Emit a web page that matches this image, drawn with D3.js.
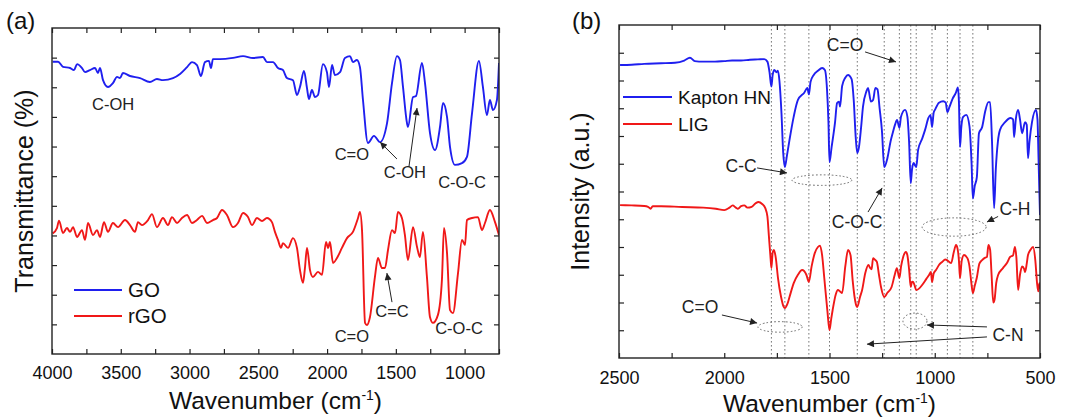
<!DOCTYPE html>
<html><head><meta charset="utf-8">
<script src="https://cdn.jsdelivr.net/npm/d3@7"></script>
<style>
body{margin:0;background:#fff;}
svg{display:block;font-family:"Liberation Sans",Arial,sans-serif;}
</style>
</head><body>
<svg id="chart" width="1070" height="419"></svg>
<script>
// ---------- Panel (a) data : FTIR of GO and rGO ----------
const goWave = [3995,3956,3920,3869,3840,3818,3782,3760,3724,3687,3666,3651,3629,3593,3557,3527,3506,3484,3433,3360,3288,3237,3193,3120,3069,3018,2982,2946,2917,2888,2859,2844,2830,2779,2684,2611,2539,2466,2437,2393,2357,2321,2292,2248,2219,2197,2168,2146,2132,2110,2088,2066,2030,2001,1986,1964,1943,1906,1870,1833,1812,1783,1761,1739,1703,1659,1615,1564,1528,1492,1470,1448,1419,1412,1375,1354,1310,1288,1252,1215,1179,1157,1128,1106,1070,1019,983,946,896,867,838,816,794,765,750];
const goVal  = [9.86,9.86,9.69,9.65,9.58,9.78,9.65,9.51,9.58,9.65,9.48,9.65,9.24,9.01,9.14,9.35,9.31,9.48,9.38,9.31,9.18,9.28,9.24,9.31,9.45,9.68,9.85,9.75,9.38,9.85,9.89,9.65,9.95,9.95,9.99,10.05,9.99,10.02,9.85,9.85,9.65,9.58,9.31,9.24,8.74,9.01,9.55,8.97,8.60,8.91,8.67,8.74,9.78,9.51,9.01,9.75,9.41,9.51,9.99,10.05,9.85,9.92,9.68,8.57,7.12,7.36,7.15,7.79,9.14,10.05,9.92,9.01,7.79,7.66,8.67,8.70,9.82,9.14,7.46,6.88,7.66,8.47,8.00,6.98,6.38,6.44,6.65,8.13,9.89,9.01,8.06,8.57,8.23,8.57,9.82];
const rgoWave = [3995,3964,3949,3920,3891,3869,3847,3818,3782,3760,3738,3702,3673,3651,3622,3593,3557,3520,3469,3433,3397,3375,3346,3302,3273,3237,3193,3157,3128,3091,3055,3018,2982,2946,2909,2873,2830,2800,2764,2728,2684,2648,2611,2575,2546,2510,2473,2437,2401,2379,2357,2335,2321,2284,2248,2219,2197,2175,2161,2146,2124,2103,2066,2037,2008,1993,1979,1957,1928,1892,1855,1812,1775,1761,1746,1724,1710,1688,1652,1630,1601,1579,1557,1528,1506,1485,1456,1434,1412,1375,1346,1325,1303,1274,1252,1230,1194,1165,1150,1128,1106,1085,1048,1019,997,983,946,903,874,852,816,779,750];
const rgoVal  = [4.07,4.25,4.50,4.08,4.25,4.12,4.28,3.95,4.18,3.85,4.42,4.01,4.18,3.95,4.45,4.12,4.42,4.28,4.52,4.35,4.12,4.45,4.35,4.52,4.72,4.28,4.59,4.35,4.62,4.42,4.59,4.69,4.42,4.52,4.66,4.42,4.52,4.59,4.86,4.69,4.28,4.42,4.76,4.62,4.35,4.59,4.49,4.59,4.45,4.12,3.85,3.58,3.74,3.58,3.91,3.58,2.83,2.40,2.90,3.58,2.83,2.60,2.77,2.67,3.78,3.58,3.78,3.07,3.24,3.58,3.91,4.12,4.59,4.79,4.18,1.05,0.98,1.25,2.60,3.24,2.90,2.90,3.51,4.18,4.08,4.79,4.59,4.01,3.17,4.28,3.61,3.27,4.12,2.60,1.25,1.05,1.32,2.50,4.25,3.41,1.48,1.38,2.73,3.85,3.68,4.52,4.59,4.62,4.18,4.42,4.86,4.45,4.01];
const aSeries = ["GO","rGO"];
const aXTicks = [4000,3500,3000,2500,2000,1500,1000];

// ---------- Panel (b) data : Kapton HN and LIG ----------
const kapWave = [2495,2440,2380,2300,2234,2190,2163,2140,2100,2044,2000,1963,1920,1878,1840,1810,1795,1785,1776,1770,1762,1752,1745,1738,1728,1720,1712,1702,1690,1670,1650,1620,1605,1598,1590,1575,1555,1535,1522,1512,1505,1500,1490,1474,1464,1455,1450,1440,1425,1412,1395,1385,1375,1368,1360,1350,1341,1325,1317,1303,1293,1282,1272,1262,1251,1240,1225,1210,1200,1189,1179,1168,1160,1141,1130,1122,1114,1108,1100,1094,1088,1079,1060,1046,1030,1020,1013,1005,999,980,960,948,940,930,915,900,890,885,880,874,866,850,835,825,819,810,800,790,775,760,745,737,728,718,710,700,690,666,640,628,623,615,604,595,585,571,563,557,550,538,519,512,507,503,500];
const kapVal  = [10.56,10.57,10.6,10.62,10.64,10.72,10.82,10.7,10.68,10.68,10.7,10.72,10.72,10.75,10.76,10.77,10.68,10.3,9.78,10.2,10.38,10.3,10.35,10.0,8.8,7.4,6.88,7.3,7.86,8.7,9.3,9.56,9.73,9.5,9.95,10.2,10.35,10.45,10.38,9.7,8.5,7.06,7.6,8.47,9.19,9.24,9.06,9.8,10.1,10.2,10.05,9.3,7.9,7.39,7.6,8.3,9.05,9.6,9.73,9.24,9.3,9.73,9.68,9.0,8.2,6.88,7.2,7.8,8.1,8.4,8.58,8.29,8.7,8.94,8.7,7.8,6.3,6.8,7.03,6.95,6.88,7.5,7.9,8.22,8.65,8.76,8.32,8.85,8.94,9.2,9.25,9.2,8.86,9.05,9.35,9.55,9.75,9.2,7.6,8.3,8.68,8.76,8.35,7.0,5.75,6.2,6.52,8.1,8.32,8.9,9.22,9.22,7.8,5.4,6.8,7.8,8.22,8.5,8.65,8.6,7.96,8.6,8.94,8.6,8.1,8.5,8.4,7.2,7.8,8.5,8.94,8.6,7.2,6.0,5.15];
const ligWave = [2495,2440,2380,2362,2350,2340,2300,2200,2100,2040,2000,1975,1960,1945,1935,1920,1905,1890,1870,1850,1838,1820,1805,1795,1788,1780,1776,1770,1764,1755,1745,1730,1718,1712,1700,1690,1670,1650,1630,1610,1598,1585,1570,1555,1545,1535,1525,1510,1500,1492,1485,1470,1460,1450,1440,1425,1412,1400,1390,1375,1368,1355,1345,1330,1315,1307,1300,1293,1285,1275,1265,1255,1240,1225,1205,1190,1180,1168,1160,1150,1137,1130,1122,1114,1108,1103,1095,1088,1075,1060,1040,1027,1018,1013,1005,994,980,965,950,942,930,922,910,899,892,885,880,872,861,845,835,826,819,810,800,788,775,760,752,745,737,730,722,716,708,699,676,657,642,628,619,612,604,595,585,575,571,563,557,545,533,522,514,508,503,500];
const ligVal  = [5.51,5.5,5.48,5.45,5.38,5.47,5.47,5.44,5.42,5.38,5.33,5.42,5.5,5.42,5.38,5.47,5.5,5.42,5.45,5.58,5.62,5.55,5.4,5.1,4.4,3.6,3.24,3.8,3.89,3.6,2.9,2.2,1.85,1.8,1.95,2.2,2.7,3.0,3.17,3.0,2.74,3.3,3.78,4.0,4.05,3.7,2.9,1.7,1.0,1.4,1.73,2.3,2.45,2.4,2.34,3.3,3.89,3.7,2.8,1.95,1.84,2.2,2.45,3.06,3.35,3.25,3.2,3.6,3.55,3.46,3.0,2.55,2.2,2.35,2.56,3.0,3.24,2.88,3.3,3.64,3.82,3.7,3.2,2.56,2.75,2.74,2.6,2.45,2.5,2.63,2.85,2.99,3.1,2.74,3.05,3.17,3.35,3.46,3.55,3.53,3.45,3.42,3.8,4.07,3.95,3.5,2.88,3.5,3.71,3.6,3.3,2.7,2.34,2.6,2.9,3.4,3.53,3.62,3.64,4.07,3.9,3.0,2.0,2.1,2.7,2.99,3.24,3.42,3.64,3.7,4.0,3.6,2.45,3.0,3.3,3.2,3.1,3.4,3.71,3.9,4.0,3.5,2.7,2.4,2.7,2.5];
const bSeries = ["Kapton HN","LIG"];
const bXTicks = [2500,2000,1500,1000,500];
const peakLines = [1776,1712,1598,1500,1368,1240,1168,1114,1088,1013,940,880,819];

// annotations (data coordinates)
const aLabels = [
  {t:"C-OH", w:3556, v:8.23}, {t:"C=O", w:1820, v:6.55}, {t:"C-OH", w:1434, v:5.94},
  {t:"C-O-C", w:1019, v:5.6}, {t:"C=C", w:1528, v:1.25}, {t:"C=O", w:1820, v:0.4},
  {t:"C-O-C", w:1041, v:0.67}];
const aArrows = [
  {w1:1492, v1:6.58, w2:1615, v2:7.15}, {w1:1405, v1:6.31, w2:1346, v2:8.3},
  {w1:1528, v1:1.75, w2:1565, v2:2.73}];
const bLabels = [
  {t:"C=O", w:1426, v:11.06}, {t:"C-C", w:1920, v:6.7}, {t:"C-O-C", w:1369, v:4.68},
  {t:"C-H", w:619, v:5.15}, {t:"C=O", w:2115, v:1.62}, {t:"C-N", w:652, v:0.61}];
const bArrows = [
  {w1:1331, v1:11.03, w2:1184, v2:10.67}, {w1:1844, v1:6.85, w2:1702, v2:6.67},
  {w1:1317, v1:5.26, w2:1250, v2:6.13}, {w1:699, v1:5.1, w2:752, v2:4.9},
  {w1:2011, v1:1.55, w2:1844, v2:1.26}, {w1:752, v1:1.12, w2:1037, v2:1.19},
  {w1:752, v1:0.76, w2:1322, v2:0.5}];
const bEllipses = [
  {w:1536, v:6.41, rw:142, rv:0.19}, {w:908, v:4.72, rw:152, rv:0.33},
  {w:1735, v:1.12, rw:105, rv:0.19}, {w:1094, v:1.33, rw:57, rv:0.29}];

// ---------- drawing ----------
const svg = d3.select("#chart");
const defs = svg.append("defs");
defs.append("marker").attr("id","arr").attr("viewBox","0 0 10 10")
  .attr("refX",10).attr("refY",5).attr("markerWidth",8).attr("markerHeight",7)
  .attr("markerUnits","userSpaceOnUse").attr("orient","auto")
  .append("path").attr("d","M0,0L10,5L0,10z").attr("fill","#222");

const BLUE = "#1f1fef", RED = "#f01818";

function panel(cfg){
  const {x, y, id} = cfg;
  const [x0,x1] = x.range(), [y0,y1] = y.range();
  const g = svg.append("g");
  defs.append("clipPath").attr("id","clip"+id).append("rect")
    .attr("x",x0).attr("y",y1).attr("width",x1-x0).attr("height",y0-y1);

  // ticks
  const minor = d3.range(x.domain()[0], x.domain()[1]-1, -250);
  const fmt = d => cfg.xTicks.includes(d) ? d : "";
  g.append("g").attr("transform",`translate(0,${y0})`)
    .call(d3.axisBottom(x).tickValues(minor).tickSize(-5).tickPadding(cfg.pad).tickFormat(fmt))
    .call(a=>a.select(".domain").remove())
    .call(a=>a.selectAll("text").attr("font-size",18).attr("fill","#111").attr("font-family","Liberation Sans, Arial, sans-serif"))
    .call(a=>a.selectAll("line").attr("stroke","#222").attr("stroke-width",1.2));
  g.append("g").attr("transform",`translate(0,${y1})`)
    .call(d3.axisTop(x).tickValues(minor).tickSize(-5).tickFormat(""))
    .call(a=>a.select(".domain").remove())
    .call(a=>a.selectAll("line").attr("stroke","#222").attr("stroke-width",1.2));
  const yt = d3.range(1, y.domain()[1]);
  g.append("g").attr("transform",`translate(${x0},0)`)
    .call(d3.axisLeft(y).tickValues(yt).tickSize(-5).tickFormat(""))
    .call(a=>a.select(".domain").remove())
    .call(a=>a.selectAll("line").attr("stroke","#222").attr("stroke-width",1.2));
  g.append("g").attr("transform",`translate(${x1},0)`)
    .call(d3.axisRight(y).tickValues(yt).tickSize(-5).tickFormat(""))
    .call(a=>a.select(".domain").remove())
    .call(a=>a.selectAll("line").attr("stroke","#222").attr("stroke-width",1.2));

  if (cfg.vlines){
    g.append("g").selectAll("line").data(cfg.vlines).join("line")
      .attr("x1",d=>x(d)).attr("x2",d=>x(d)).attr("y1",y1).attr("y2",y0)
      .attr("stroke","#777").attr("stroke-width",1).attr("stroke-dasharray","1.6,2.4");
  }

  const line = d3.line().x(d=>x(d[0])).y(d=>y(d[1])).curve(d3.curveMonotoneX);
  cfg.series.forEach(s=>{
    g.append("path").datum(d3.zip(s.w, s.v))
      .attr("clip-path",`url(#clip${id})`)
      .attr("d",line).attr("fill","none").attr("stroke",s.color)
      .attr("stroke-width",1.9).attr("stroke-linejoin","round");
  });

  // frame
  g.append("rect").attr("x",x0).attr("y",y1).attr("width",x1-x0).attr("height",y0-y1)
    .attr("fill","none").attr("stroke","#222").attr("stroke-width",1.4);

  // legend
  cfg.series.forEach((s,i)=>{
    const ly = cfg.legY + i*cfg.legStep;
    g.append("line").attr("x1",cfg.legX).attr("x2",cfg.legX+cfg.legLen).attr("y1",ly).attr("y2",ly)
      .attr("stroke",s.color).attr("stroke-width",1.9);
    g.append("text").attr("x",cfg.legX+cfg.legLen+6).attr("y",ly+7)
      .attr("font-size",cfg.legFont).attr("fill","#111").text(s.name);
  });

  // ellipses
  (cfg.ellipses||[]).forEach(e=>{
    g.append("ellipse").attr("cx",x(e.w)).attr("cy",y(e.v))
      .attr("rx",Math.abs(x(e.w+e.rw)-x(e.w))).attr("ry",Math.abs(y(e.v+e.rv)-y(e.v)))
      .attr("fill","none").attr("stroke","#666").attr("stroke-width",1).attr("stroke-dasharray","1.6,2.2");
  });
  // arrows
  cfg.arrows.forEach(a=>{
    g.append("line").attr("x1",x(a.w1)).attr("y1",y(a.v1)).attr("x2",x(a.w2)).attr("y2",y(a.v2))
      .attr("stroke","#222").attr("stroke-width",1).attr("marker-end","url(#arr)");
  });
  // labels
  cfg.labels.forEach(l=>{
    g.append("text").attr("x",x(l.w)).attr("y",y(l.v)).attr("text-anchor","middle")
      .attr("font-size",cfg.annFont).attr("fill","#222").text(l.t);
  });

  // axis titles
  const xt = g.append("text").attr("x",(x0+x1)/2).attr("y",cfg.xTitleY).attr("text-anchor","middle")
    .attr("font-size",24.5).attr("fill","#111");
  xt.append("tspan").text("Wavenumber (cm");
  xt.append("tspan").attr("font-size",14).attr("dy",-9).text("-1");
  xt.append("tspan").attr("dy",9).text(")");
  g.append("text").attr("transform",`translate(${cfg.yTitleX},${(y0+y1)/2}) rotate(-90)`)
    .attr("text-anchor","middle").attr("font-size",25).attr("fill","#111").text(cfg.yTitle);
  g.append("text").attr("x",cfg.tagX).attr("y",29).attr("font-size",24).attr("fill","#111").text(cfg.tag);
}

panel({
  id:"a", tag:"(a)", tagX:6,
  x: d3.scaleLinear().domain([4000,750]).range([52,499]),
  y: d3.scaleLinear().domain([0,11]).range([354,28]),
  xTicks:aXTicks, pad:12, xTitleY:409, yTitleX:33, yTitle:"Transmittance (%)",
  series:[{name:aSeries[0], w:goWave, v:goVal, color:BLUE},{name:aSeries[1], w:rgoWave, v:rgoVal, color:RED}],
  legX:74, legLen:48, legY:290, legStep:26, legFont:20.5,
  labels:aLabels, arrows:aArrows, annFont:16.5, ellipses:[]
});
panel({
  id:"b", tag:"(b)", tagX:572,
  x: d3.scaleLinear().domain([2500,500]).range([619,1040]),
  y: d3.scaleLinear().domain([0,12]).range([358,25]),
  xTicks:bXTicks, pad:13, xTitleY:412, yTitleX:589, yTitle:"Intensity (a.u.)",
  series:[{name:bSeries[0], w:kapWave, v:kapVal, color:BLUE},{name:bSeries[1], w:ligWave, v:ligVal, color:RED}],
  legX:623, legLen:49, legY:97, legStep:27, legFont:19,
  labels:bLabels, arrows:bArrows, annFont:17.5, ellipses:bEllipses, vlines:peakLines
});
</script>
</body></html>
